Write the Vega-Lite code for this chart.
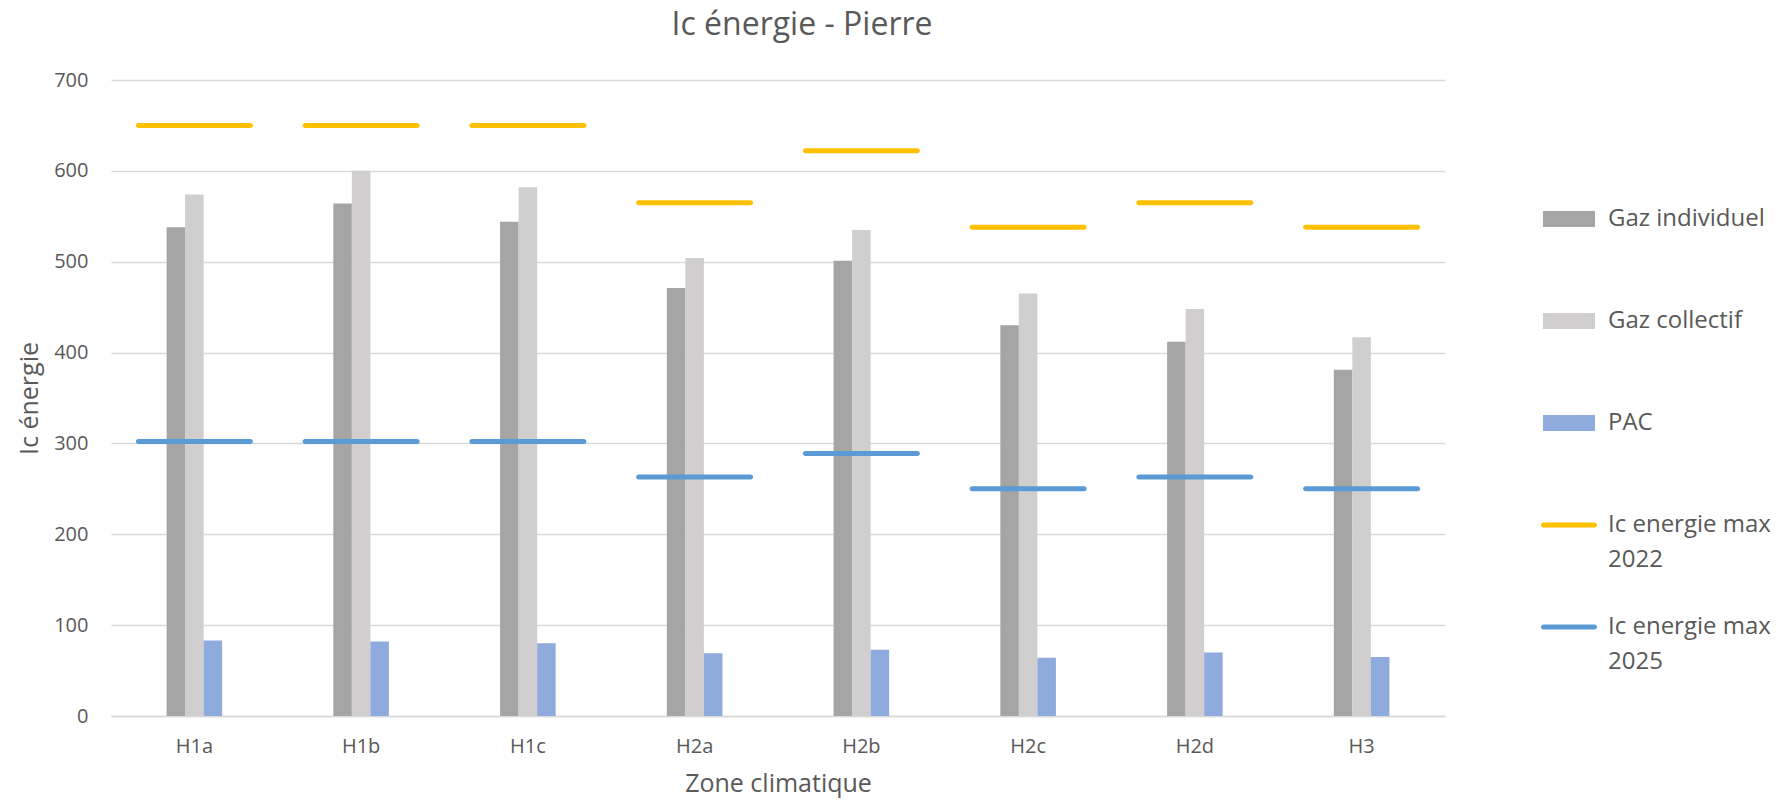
{
  "$schema": "https://vega.github.io/schema/vega-lite/v6.json",
  "width": 1334,
  "height": 636,
  "autosize": {"type": "none"},
  "padding": {"left": 111, "top": 80, "right": 345, "bottom": 85},
  "background": "white",
  "title": {"text": "Ic énergie - Pierre", "fontSize": 32, "font": "Open Sans", "fontWeight": "normal", "color": "#595959", "anchor": "middle", "dx": 24, "offset": 28},
  "config": {
    "view": {"stroke": null},
    "font": "Open Sans",
    "axis": {"labelFont": "Open Sans", "titleFont": "Open Sans", "labelColor": "#595959", "titleColor": "#595959", "titleFontWeight": "normal"},
    "legend": {"labelFont": "Open Sans", "labelColor": "#595959"}
  },
  "data": {"values": [
    {"zone": "H1a", "serie": "Gaz individuel", "value": 538},
    {"zone": "H1b", "serie": "Gaz individuel", "value": 564},
    {"zone": "H1c", "serie": "Gaz individuel", "value": 544},
    {"zone": "H2a", "serie": "Gaz individuel", "value": 471},
    {"zone": "H2b", "serie": "Gaz individuel", "value": 501},
    {"zone": "H2c", "serie": "Gaz individuel", "value": 430},
    {"zone": "H2d", "serie": "Gaz individuel", "value": 412},
    {"zone": "H3", "serie": "Gaz individuel", "value": 381},
    {"zone": "H1a", "serie": "Gaz collectif", "value": 574},
    {"zone": "H1b", "serie": "Gaz collectif", "value": 600},
    {"zone": "H1c", "serie": "Gaz collectif", "value": 582},
    {"zone": "H2a", "serie": "Gaz collectif", "value": 504},
    {"zone": "H2b", "serie": "Gaz collectif", "value": 535},
    {"zone": "H2c", "serie": "Gaz collectif", "value": 465},
    {"zone": "H2d", "serie": "Gaz collectif", "value": 448},
    {"zone": "H3", "serie": "Gaz collectif", "value": 417},
    {"zone": "H1a", "serie": "PAC", "value": 83},
    {"zone": "H1b", "serie": "PAC", "value": 82},
    {"zone": "H1c", "serie": "PAC", "value": 80},
    {"zone": "H2a", "serie": "PAC", "value": 69},
    {"zone": "H2b", "serie": "PAC", "value": 73},
    {"zone": "H2c", "serie": "PAC", "value": 64},
    {"zone": "H2d", "serie": "PAC", "value": 70},
    {"zone": "H3", "serie": "PAC", "value": 65},
    {"zone": "H1a", "serie": "Ic energie max 2022", "value": 650},
    {"zone": "H1b", "serie": "Ic energie max 2022", "value": 650},
    {"zone": "H1c", "serie": "Ic energie max 2022", "value": 650},
    {"zone": "H2a", "serie": "Ic energie max 2022", "value": 565},
    {"zone": "H2b", "serie": "Ic energie max 2022", "value": 622},
    {"zone": "H2c", "serie": "Ic energie max 2022", "value": 538},
    {"zone": "H2d", "serie": "Ic energie max 2022", "value": 565},
    {"zone": "H3", "serie": "Ic energie max 2022", "value": 538},
    {"zone": "H1a", "serie": "Ic energie max 2025", "value": 302},
    {"zone": "H1b", "serie": "Ic energie max 2025", "value": 302},
    {"zone": "H1c", "serie": "Ic energie max 2025", "value": 302},
    {"zone": "H2a", "serie": "Ic energie max 2025", "value": 263},
    {"zone": "H2b", "serie": "Ic energie max 2025", "value": 289},
    {"zone": "H2c", "serie": "Ic energie max 2025", "value": 250},
    {"zone": "H2d", "serie": "Ic energie max 2025", "value": 263},
    {"zone": "H3", "serie": "Ic energie max 2025", "value": 250}
  ]},
  "encoding": {
    "x": {"field": "zone", "type": "nominal", "sort": null,
      "scale": {"paddingInner": 0.6667, "paddingOuter": 0.3333},
      "axis": {"title": "Zone climatique", "titleFontSize": 25, "titlePadding": 15, "labelFontSize": 20, "labelAngle": 0, "labelPadding": 20, "ticks": false, "domain": true, "domainColor": "#D9D9D9", "domainWidth": 1.5, "grid": false}},
    "y": {"field": "value", "type": "quantitative",
      "scale": {"domain": [0, 700]},
      "axis": {"title": "Ic énergie", "titleFontSize": 25, "titlePadding": 11, "labelFontSize": 20, "labelPadding": 23, "values": [0, 100, 200, 300, 400, 500, 600, 700], "ticks": false, "domain": false, "gridColor": "#D9D9D9", "gridWidth": 1.3}},
    "color": {"field": "serie", "type": "nominal",
      "scale": {"domain": ["Gaz individuel", "Gaz collectif", "PAC", "Ic energie max 2022", "Ic energie max 2025"], "range": ["#A5A5A5", "#D0CECE", "#8FAADC", "#FFC000", "#5B9BD5"]},
      "legend": {"title": null, "orient": "none", "legendX": 1430, "legendY": 111, "padding": 0, "symbolSize": 3136, "labelFontSize": 24, "labelOffset": 11, "labelLimit": 300, "rowPadding": 27,
        "labelExpr": "indexof(datum.label, 'Ic energie max') == 0 ? ['Ic energie max', slice(datum.label, 15)] : [datum.label, '']",
        "encode": {
          "symbols": {"update": {"shape": {"signal": "indexof(datum.value, 'Ic energie') == 0 ? 'M-0.91,-0.09H0.91A0.09,0.09,0,0,1,0.91,0.09H-0.91A0.09,0.09,0,0,1,-0.91,-0.09Z' : 'M-0.93,-0.29H0.93V0.29H-0.93Z'"}, "strokeWidth": {"value": 0}}},
          "labels": {"update": {"lineHeight": {"value": 35}}}
        }}}
  },
  "layer": [
    {
      "transform": [{"filter": "indexof(datum.serie, 'Ic energie') < 0"}],
      "mark": {"type": "bar"},
      "encoding": {
        "xOffset": {"field": "serie", "type": "nominal", "sort": ["Gaz individuel", "Gaz collectif", "PAC"], "scale": {"paddingInner": 0, "paddingOuter": 0}}
      }
    },
    {
      "transform": [{"filter": "indexof(datum.serie, 'Ic energie') == 0"}],
      "mark": {"type": "tick", "size": 117, "thickness": 5, "cornerRadius": 2.5, "opacity": 1}
    }
  ]
}
